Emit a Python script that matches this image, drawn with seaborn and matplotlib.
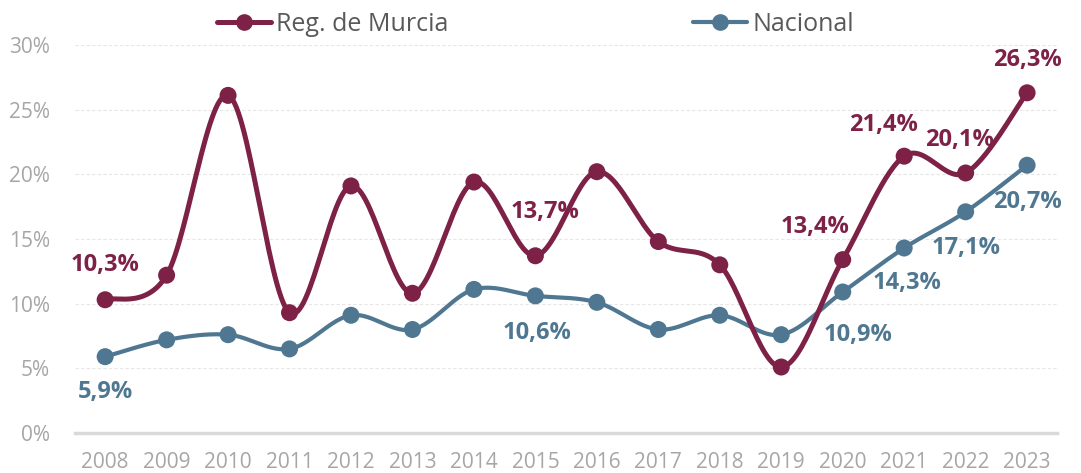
import numpy as np
import pandas as pd
import matplotlib
matplotlib.use("Agg")
import matplotlib.pyplot as plt
from matplotlib.lines import Line2D
import seaborn as sns

# data (%)
years = list(range(2008, 2024))
murcia = [10.3, 12.2, 26.1, 9.3, 19.1, 10.8, 19.4, 13.7, 20.2, 14.8, 13.0, 5.1, 13.4, 21.4, 20.1, 26.3]
nacional = [5.9, 7.2, 7.6, 6.5, 9.1, 8.0, 11.1, 10.6, 10.1, 8.0, 9.1, 7.6, 10.9, 14.3, 17.1, 20.7]
y_ticks = [0, 5, 10, 15, 20, 25, 30]

# which points carry a data label
murcia_label_years = [2008, 2015, 2020, 2021, 2022, 2023]
nacional_label_years = [2008, 2015, 2020, 2021, 2022, 2023]

MURCIA_COLOR = "#7D2146"
NACIONAL_COLOR = "#4F7791"
TICK_COLOR = "#A6A6A6"


def smooth_curve(x, y, steps=30):
    """Excel-like smoothed line (Catmull-Rom through every point)."""
    x = np.asarray(x, dtype=float)
    y = np.asarray(y, dtype=float)
    px = np.concatenate([[x[0]], x, [x[-1]]])
    py = np.concatenate([[y[0]], y, [y[-1]]])
    xs, ys = [], []
    t = np.linspace(0, 1, steps, endpoint=False)
    for i in range(1, len(px) - 2):
        p0, p1, p2, p3 = px[i - 1], px[i], px[i + 1], px[i + 2]
        q0, q1, q2, q3 = py[i - 1], py[i], py[i + 1], py[i + 2]
        c1x, c1y = p1 + (p2 - p0) / 6, q1 + (q2 - q0) / 6
        c2x, c2y = p2 - (p3 - p1) / 6, q2 - (q3 - q1) / 6
        b = [(1 - t) ** 3, 3 * (1 - t) ** 2 * t, 3 * (1 - t) * t ** 2, t ** 3]
        xs.append(b[0] * p1 + b[1] * c1x + b[2] * c2x + b[3] * p2)
        ys.append(b[0] * q1 + b[1] * c1y + b[2] * c2y + b[3] * q2)
    xs.append([x[-1]])
    ys.append([y[-1]])
    return np.concatenate(xs), np.concatenate(ys)


sns.set_theme(style="white")
plt.rcParams["font.family"] = ["Open Sans", "DejaVu Sans"]

fig = plt.figure(figsize=(10.81, 4.73), dpi=100)
ax = fig.add_axes([0.0694, 0.0846, 0.9086, 0.8204])

df = pd.DataFrame({"year": years, "Reg. de Murcia": murcia, "Nacional": nacional})

for col, color, lw in [("Nacional", NACIONAL_COLOR, 3.0), ("Reg. de Murcia", MURCIA_COLOR, 3.6)]:
    sx, sy = smooth_curve(df["year"], df[col])
    sns.lineplot(x=sx, y=sy, ax=ax, color=color, lw=lw, sort=False, zorder=3)
    sns.scatterplot(data=df, x="year", y=col, ax=ax, color=color, s=150,
                    edgecolor="none", zorder=4)

# data labels
murcia_offsets = {2008: (0, 35), 2015: (10, 44), 2020: (-28, 33),
                  2021: (-21, 31), 2022: (-6, 33), 2023: (0, 33)}
nacional_offsets = {2008: (0, -35), 2015: (2, -37), 2020: (15, -43),
                    2021: (3, -35), 2022: (0, -36), 2023: (0, -37)}

for series, label_years, offsets, color in [
    (murcia, murcia_label_years, murcia_offsets, MURCIA_COLOR),
    (nacional, nacional_label_years, nacional_offsets, NACIONAL_COLOR),
]:
    for yr in label_years:
        val = series[years.index(yr)]
        txt = f"{val:.1f}%".replace(".", ",")
        ax.annotate(txt, (yr, val), xytext=offsets[yr], textcoords="offset pixels",
                    ha="center", va="center", fontsize=17, fontweight="bold",
                    color=color, zorder=5)

ax.set_xlim(years[0] - 0.49, years[-1] + 0.49)
ax.set_ylim(0, 30)
ax.set_yticks(y_ticks)
ax.set_yticklabels([f"{v}%" for v in y_ticks])
ax.set_xticks(years)
ax.set_xticklabels([str(y) for y in years])
ax.set_xlabel("")
ax.set_ylabel("")
ax.tick_params(axis="both", colors=TICK_COLOR, labelsize=15, length=0)
ax.tick_params(axis="x", pad=14)
ax.tick_params(axis="y", pad=18)
for lbl in ax.get_xticklabels() + ax.get_yticklabels():
    lbl.set_color(TICK_COLOR)

ax.yaxis.grid(True, color="#E6E6E6", lw=0.8, ls=(0, (3, 2)))
ax.xaxis.grid(False)
for side in ["top", "right", "left"]:
    ax.spines[side].set_visible(False)
ax.spines["bottom"].set_color("#D9D9D9")
ax.spines["bottom"].set_linewidth(2.5)
ax.set_axisbelow(True)

handles = [
    Line2D([], [], color=MURCIA_COLOR, lw=3.6, marker="o", markersize=11),
    Line2D([], [], color=NACIONAL_COLOR, lw=3.0, marker="o", markersize=11),
]
fig.legend(handles, ["Reg. de Murcia", "Nacional"], loc="center",
           bbox_to_anchor=(0.4954, 0.949), ncol=2, frameon=False,
           fontsize=18, labelcolor="#595959", handlelength=2.16,
           handletextpad=0.2, columnspacing=9.8)

fig.savefig("out.png", dpi=100)
